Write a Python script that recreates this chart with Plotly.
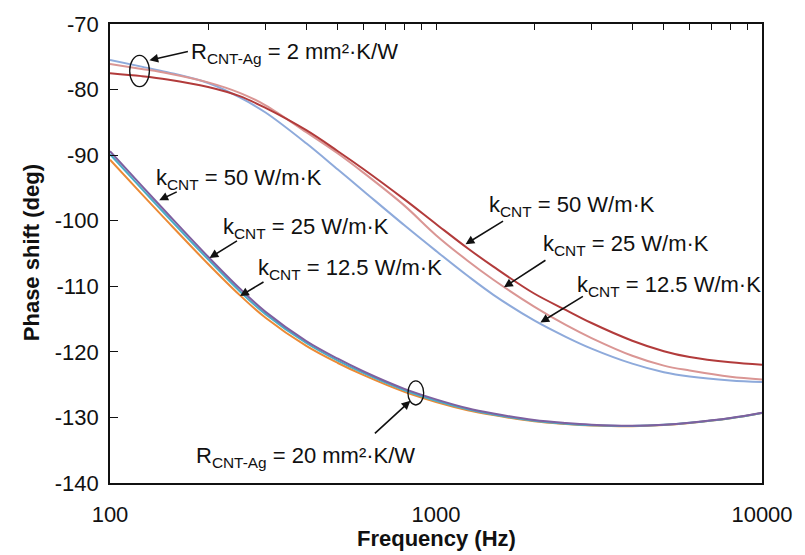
import plotly.graph_objects as go

# ---------------- data ----------------
FREQ = [100, 125, 150, 200, 250, 300, 400, 500, 600, 800, 1000, 1250, 1500,
        2000, 2500, 3000, 4000, 5000, 6000, 8000, 10000]

# R_CNT-Ag = 2 mm²·K/W
R2_K50 = [-77.5, -77.95, -78.45, -79.6, -81.0, -82.8, -86.2, -89.4, -92.15, -96.75,
          -100.5, -104.2, -107.0, -111.1, -113.6, -115.6, -118.3, -119.9, -120.8,
          -121.6, -121.95]
R2_K25 = [-76.1, -76.85, -77.5, -78.9, -80.5, -82.4, -86.5, -89.75, -92.7, -97.7,
          -102.2, -106.1, -109.0, -113.1, -115.9, -117.9, -120.6, -122.1, -122.85,
          -123.8, -124.2]
R2_K12 = [-75.5, -76.5, -77.35, -79.0, -81.2, -83.5, -88.2, -92.2, -95.5, -100.7,
          -104.6, -108.4, -111.3, -115.2, -117.7, -119.5, -121.8, -123.1, -123.75,
          -124.35, -124.6]

# R_CNT-Ag = 20 mm²·K/W
R20_K50 = [-89.4, -94.65, -98.9, -105.5, -110.35, -113.9, -118.35, -121.05, -123.0,
           -125.65, -127.25, -128.6, -129.4, -130.4, -130.85, -131.1, -131.25, -131.1,
           -130.8, -130.1, -129.3]
R20_K25 = [-89.85, -95.1, -99.35, -105.9, -110.75, -114.25, -118.65, -121.35, -123.25,
           -125.85, -127.45, -128.75, -129.55, -130.5, -130.95, -131.18, -131.3, -131.13,
           -130.83, -130.12, -129.32]
R20_K12 = [-90.7, -95.9, -100.1, -106.6, -111.35, -114.8, -119.1, -121.7, -123.55,
           -126.1, -127.65, -128.9, -129.65, -130.6, -131.0, -131.22, -131.33, -131.16,
           -130.85, -130.14, -129.33]

X_TICKS = [100, 1000, 10000]
X_TICK_TEXT = ["100", "1000", "10000"]
TOP_TICKS = [100, 200, 300, 400, 500, 600, 700, 800, 900, 1000,
             2000, 3000, 4000, 5000, 6000, 7000, 8000, 9000, 10000]
Y_TICKS = [-140, -130, -120, -110, -100, -90, -80, -70]
Y_TICK_TEXT = ["-140", "-130", "-120", "-110", "-100", "-90", "-80", "-70"]

# ---------------- layout constants ----------------
W, H = 805, 555
ML, MR, MT, MB = 110, 33, 14, 72
PW, PH = W - ML - MR, H - MT - MB
FONT = "Liberation Sans, Arial, sans-serif"
INK = "#111111"


def px(x):
    return (x - ML) / PW


def py(y):
    return (H - MB - y) / PH


fig = go.Figure()

series = [
    (R20_K12, "#EC8A35"),
    (R20_K25, "#4AACC6"),
    (R20_K50, "#7E60A0"),
    (R2_K12, "#8EAADB"),
    (R2_K25, "#DA9694"),
    (R2_K50, "#B23B3B"),
]
for ys, col in series:
    fig.add_trace(go.Scatter(x=FREQ, y=ys, mode="lines",
                             line=dict(color=col, width=2, shape="spline", smoothing=1.0),
                             showlegend=False, hoverinfo="skip"))

# helper trace so that the top tick axis is drawn
fig.add_trace(go.Scatter(x=[FREQ[0], FREQ[-1]], y=[R2_K50[0], R2_K50[-1]], xaxis="x2",
                         mode="markers", marker=dict(opacity=0), showlegend=False,
                         hoverinfo="skip"))

fig.update_layout(
    width=W, height=H,
    margin=dict(l=ML, r=MR, t=MT, b=MB),
    paper_bgcolor="white", plot_bgcolor="white",
    font=dict(family=FONT, size=22, color=INK),
    xaxis=dict(type="log", range=[2, 4], tickvals=X_TICKS, ticktext=X_TICK_TEXT,
               ticks="", showgrid=False, zeroline=False, showline=True,
               linecolor=INK, linewidth=1.5, mirror=True,
               ticklabelstandoff=11, tickfont=dict(size=22)),
    xaxis2=dict(type="log", range=[2, 4], overlaying="x", side="top",
                tickvals=TOP_TICKS, ticks="inside", ticklen=6, tickwidth=1,
                tickcolor=INK, showticklabels=False, showgrid=False,
                zeroline=False, showline=False),
    yaxis=dict(range=[-140, -70], tickvals=Y_TICKS, ticktext=Y_TICK_TEXT,
               ticks="inside", ticklen=8,
               tickwidth=1, tickcolor=INK, showgrid=False, zeroline=False,
               showline=True, linecolor=INK, linewidth=1.5, mirror=True,
               ticklabelstandoff=5, tickfont=dict(size=22)),
)

# axis titles
fig.add_annotation(text="<b>Frequency (Hz)</b>", xref="paper", yref="paper",
                   x=px(441), y=py(540), showarrow=False, xanchor="center",
                   yanchor="middle", font=dict(size=22, color=INK))
fig.add_annotation(text="<b>Phase shift (deg)</b>", xref="paper", yref="paper",
                   x=px(30), y=py(248), showarrow=False, textangle=-90,
                   xanchor="center", yanchor="middle", font=dict(size=22, color=INK))

# labels
labels = [
    ("R<sub>CNT-Ag</sub> = 2 mm²·K/W", 190, 44),
    ("k<sub>CNT</sub> = 50 W/m·K", 155, 172),
    ("k<sub>CNT</sub> = 25 W/m·K", 223, 222),
    ("k<sub>CNT</sub> = 12.5 W/m·K", 258, 264),
    ("k<sub>CNT</sub> = 50 W/m·K", 493, 200),
    ("k<sub>CNT</sub> = 25 W/m·K", 548, 240),
    ("k<sub>CNT</sub> = 12.5 W/m·K", 582, 282),
    ("R<sub>CNT-Ag</sub> = 20 mm²·K/W", 195, 456),
]
for t, lx, ly in labels:
    fig.add_annotation(text=t, xref="paper", yref="paper", x=px(lx), y=py(ly),
                       showarrow=False, xanchor="left", yanchor="middle",
                       font=dict(size=22, color=INK))

# arrows: (head_x, head_y, tail_x, tail_y) in pixels
arrows = [
    (150, 51, 190, 42),
    (160, 194, 179, 185),
    (211, 253, 240, 235),
    (242, 292, 267, 277),
    (471, 239, 510, 215),
    (510, 283, 553, 255),
    (547, 319, 591, 292),
    (415, 399, 378, 433),
]
for hx, hy, tx, ty in arrows:
    fig.add_annotation(text="", xref="paper", yref="paper", x=px(hx), y=py(hy),
                       ax=tx - hx, ay=ty - hy, axref="pixel", ayref="pixel",
                       showarrow=True, arrowhead=2, arrowsize=1.1, arrowwidth=1.6,
                       arrowcolor=INK, standoff=0, startstandoff=0)

# ellipses (pixel centres and radii)
for cx, cy, rx, ry in [(140, 62, 10, 16), (420.5, 391, 8, 12.3)]:
    fig.add_shape(type="circle", xref="paper", yref="paper",
                  x0=px(cx - rx), x1=px(cx + rx), y0=py(cy + ry), y1=py(cy - ry),
                  line=dict(color=INK, width=1.3))

fig.write_html("out.html")
